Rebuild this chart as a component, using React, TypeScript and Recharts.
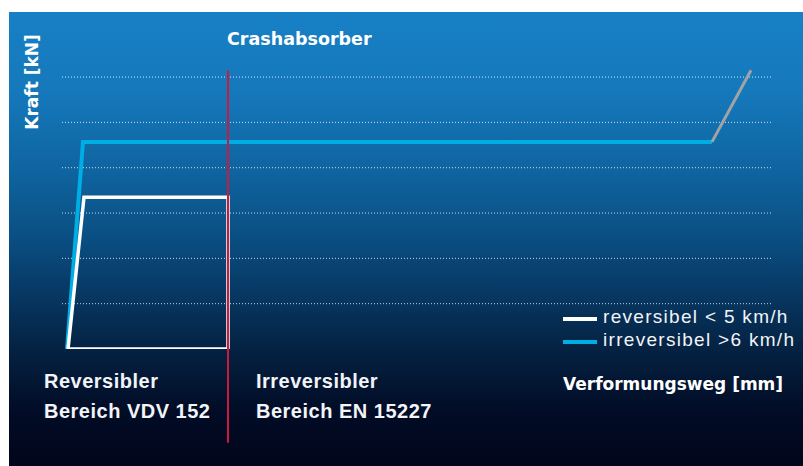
import type { JSX } from 'react';
import { Line, LineChart, ReferenceLine, XAxis, YAxis } from 'recharts';

// x: deformation (chart units), y: force (chart units)
const reversibelX = [6, 22, 166, 166, 6];
const reversibelY = [0, 3.35, 3.35, 0, 0];
const irreversibelX = [5, 21, 650];
const irreversibelY = [0, 4.57, 4.57];
const blockX = [650, 689];
const blockY = [4.57, 6.15];
const gridTicks = [1, 2, 3, 4, 5, 6];
const limitX = 166;
const legendLabels = ['reversibel < 5 km/h', 'irreversibel >6 km/h'];

const toRows = (xs: number[], ys: number[]) => xs.map((x, i) => ({ x, y: ys[i] }));

const WHITE = '#ffffff';
const BLUE = '#00aee6';
const GRAY = '#a3a3a3';
const RED = '#cc1a3c';

const dinFont = '"DejaVu Sans", sans-serif';
const helvFont = '"Liberation Sans", Arial, sans-serif';

function LegendBox(): JSX.Element {
  const colors = [WHITE, BLUE];
  return (
    <div style={{ position: 'absolute', left: 554, top: 293 }}>
      {legendLabels.map((label, i) => (
        <div key={label} style={{ display: 'flex', alignItems: 'center', height: 23 }}>
          <span style={{ width: 34, height: 4, background: colors[i], marginRight: 6, marginTop: 4 }} />
          <span
            style={{
              fontFamily: helvFont,
              fontSize: 19,
              letterSpacing: 1.3,
              color: '#f2f4f8',
              whiteSpace: 'nowrap',
            }}
          >
            {label}
          </span>
        </div>
      ))}
    </div>
  );
}

const areaText = {
  position: 'absolute' as const,
  top: 354,
  fontFamily: helvFont,
  fontWeight: 'bold' as const,
  fontSize: 20,
  letterSpacing: 0.5,
  lineHeight: '30px',
  color: '#f2f4f8',
  whiteSpace: 'nowrap' as const,
};

export default function App(): JSX.Element {
  const W = 794;
  const H = 454;
  return (
    <div
      style={{
        position: 'absolute',
        left: 9,
        top: 12,
        width: W,
        height: H,
        background:
          'linear-gradient(180deg, #1880c5 0%, #1578bb 18%, #0f649f 35%, #0a4e82 50%, #073660 63%, #041f3e 76%, #020c26 88%, #01061b 100%)',
        overflow: 'hidden',
      }}
    >
      <LineChart width={W} height={H} margin={{ top: 56, right: 31, bottom: 117, left: 53 }}>
        <XAxis type="number" dataKey="x" domain={[0, 710]} hide allowDataOverflow />
        <YAxis type="number" dataKey="y" domain={[0, 6.2]} hide allowDataOverflow />
        {gridTicks.map((t) => (
          <ReferenceLine
            key={t}
            y={t}
            stroke="rgba(255,255,255,0.8)"
            strokeDasharray="1 2"
            strokeWidth={1}
          />
        ))}
        <Line
          data={toRows(irreversibelX, irreversibelY)}
          dataKey="y"
          stroke={BLUE}
          strokeWidth={4}
          dot={false}
          isAnimationActive={false}
          strokeLinejoin="miter"
        />
        <Line
          data={toRows(blockX, blockY)}
          dataKey="y"
          stroke={GRAY}
          strokeWidth={3}
          dot={false}
          isAnimationActive={false}
        />
        <Line
          data={toRows(reversibelX, reversibelY)}
          dataKey="y"
          stroke={WHITE}
          strokeWidth={3.5}
          dot={false}
          isAnimationActive={false}
          strokeLinejoin="miter"
        />
        <ReferenceLine
          segment={[
            { x: limitX, y: 6.15 },
            { x: limitX, y: -2.07 },
          ]}
          stroke={RED}
          strokeWidth={2}
          ifOverflow="visible"
        />
      </LineChart>
      <LegendBox />
      <div
        style={{
          position: 'absolute',
          left: 218,
          top: 17,
          fontFamily: dinFont,
          fontWeight: 'bold',
          fontSize: 17.5,
          color: '#fff',
        }}
      >
        Crashabsorber
      </div>
      <div
        style={{
          position: 'absolute',
          left: 23,
          top: 70,
          transform: 'translate(-50%, -50%) rotate(-90deg)',
          fontFamily: dinFont,
          fontWeight: 'bold',
          fontSize: 17,
          color: '#fff',
          whiteSpace: 'nowrap',
        }}
      >
        Kraft [kN]
      </div>
      <div style={{ ...areaText, left: 35 }}>
        Reversibler
        <br />
        Bereich VDV 152
      </div>
      <div style={{ ...areaText, left: 247 }}>
        Irreversibler
        <br />
        Bereich EN 15227
      </div>
      <div
        style={{
          position: 'absolute',
          left: 554,
          top: 362,
          fontFamily: dinFont,
          fontWeight: 'bold',
          fontSize: 17,
          color: '#fff',
        }}
      >
        Verformungsweg [mm]
      </div>
    </div>
  );
}
